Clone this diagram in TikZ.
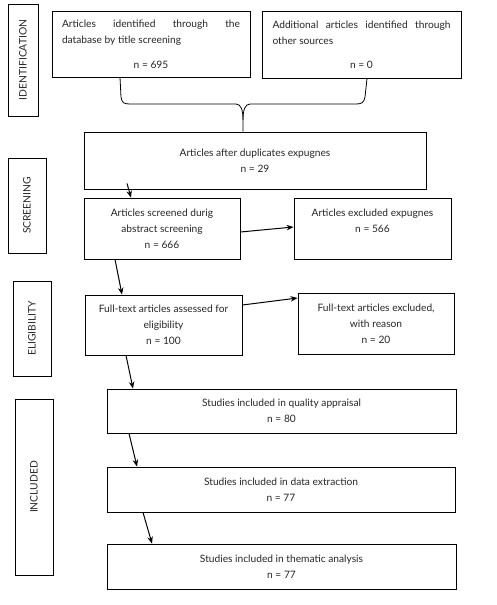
\documentclass[tikz,border=0pt]{standalone}
\usepackage{fontspec}
\setmainfont{Lato}
\usetikzlibrary{positioning, arrows.meta}
\tikzset{
>={Stealth[length=7pt, width=5.5pt]}, % filled arrow heads
box/.style={draw, line width=0.8pt, inner sep=0pt, align=center, text=black!85}, % every box of the flow
stage/.style={draw, line width=0.8pt, inner sep=0pt, rotate=90, text=black!85, font=\fontsize{10.3}{13}\selectfont}, % the stage labels on the left
flow/.style={->, line width=1pt}, % arrows between the boxes
}

\begin{document}
\begin{tikzpicture}[x=1pt, y=-1pt, font=\fontsize{10.2}{16}\selectfont]
            \useasboundingbox (0,0) rectangle (497,605);
            % stages
            \node[stage, minimum width=112, minimum height=30] (lid) at (23,60) {IDENTIFICATION};
            \node[stage, minimum width=95, minimum height=38] (lscr) at (27,205.5) {SCREENING};
            \node[stage, minimum width=95, minimum height=38] (lelig) at (32,328.5) {ELIGIBILITY};
            \node[stage, minimum width=176, minimum height=38] (lincl) at (34,487) {INCLUDED};
            % boxes
            \node[box, minimum width=198, minimum height=66, text width=178, align=justify] (db) at (151,44)
                {Articles identified through the\linebreak database by title screening\par\vspace{9pt}\makebox[\linewidth]{n = 695}};
            \node[box, minimum width=199, minimum height=67, text width=178, align=justify] (other) at (361.5,44.5)
                {Additional articles identified through\linebreak other sources\par\vspace{8pt}\makebox[\linewidth]{n = 0}};
            \node[box, minimum width=342, minimum height=57] (dup) at (255,160.5) {Articles after duplicates expugnes\\n = 29};
            \node[box, minimum width=156, minimum height=61] (scr) at (162,228.5) {Articles screened durig\\abstract screening\\n = 666};
            \node[box, minimum width=157, minimum height=61] (exc1) at (372.5,228.5) {Articles excluded expugnes\\n = 566\\\mbox{}};
            \node[box, minimum width=157, minimum height=60] (full) at (163.5,325) {Full-text articles assessed for\\eligibility\\n = 100};
            \node[box, minimum width=156, minimum height=61] (exc2) at (376,323.5) {Full-text articles excluded,\\with reason\\n = 20};
            \node[box, minimum width=349, minimum height=44] (qual) at (281.5,411) {Studies included in quality appraisal\\n = 80};
            \node[box, minimum width=348, minimum height=45] (extr) at (281,489.5) {Studies included in data extraction\\n = 77};
            \node[box, minimum width=349, minimum height=45] (them) at (281.5,566.5) {Studies included in thematic analysis\\n = 77};
            % brace joining the two sources
            \coordinate (tip) at (243,120);
            \draw[line width=0.8pt]
                ([xshift=-31pt]db.south) -- (121,97) .. controls (122,103) and (124,104) .. (130,104) -- (236,104)
                .. controls (241,104) and (243,110) .. (tip) -- ([xshift=-12pt]dup.north);
            \draw[line width=0.8pt]
                ([xshift=5.5pt]other.south) -- (365,97) .. controls (364,103) and (361,104) .. (356,104) -- (250,104)
                .. controls (245,104) and (243,110) .. (tip);
            \path[flow]
                ([xshift=-128pt, yshift=6pt]dup.south) edge ([xshift=-31pt]scr.north)
                ([yshift=-3.5pt]scr.east) edge ([yshift=1.5pt]exc1.west)
                ([xshift=-47pt]scr.south) edge ([xshift=-41.5pt]full.north)
                ([yshift=20pt]full.east) edge ([yshift=25.5pt]exc2.west)
                ([xshift=-37.5pt]full.south) edge ([xshift=-148.5pt]qual.north)
                ([xshift=-152.5pt]qual.south) edge ([xshift=-144pt]extr.north)
                ([xshift=-138pt]extr.south) edge ([xshift=-129.5pt]them.north)
                ;
            \end{tikzpicture}
\end{document}
